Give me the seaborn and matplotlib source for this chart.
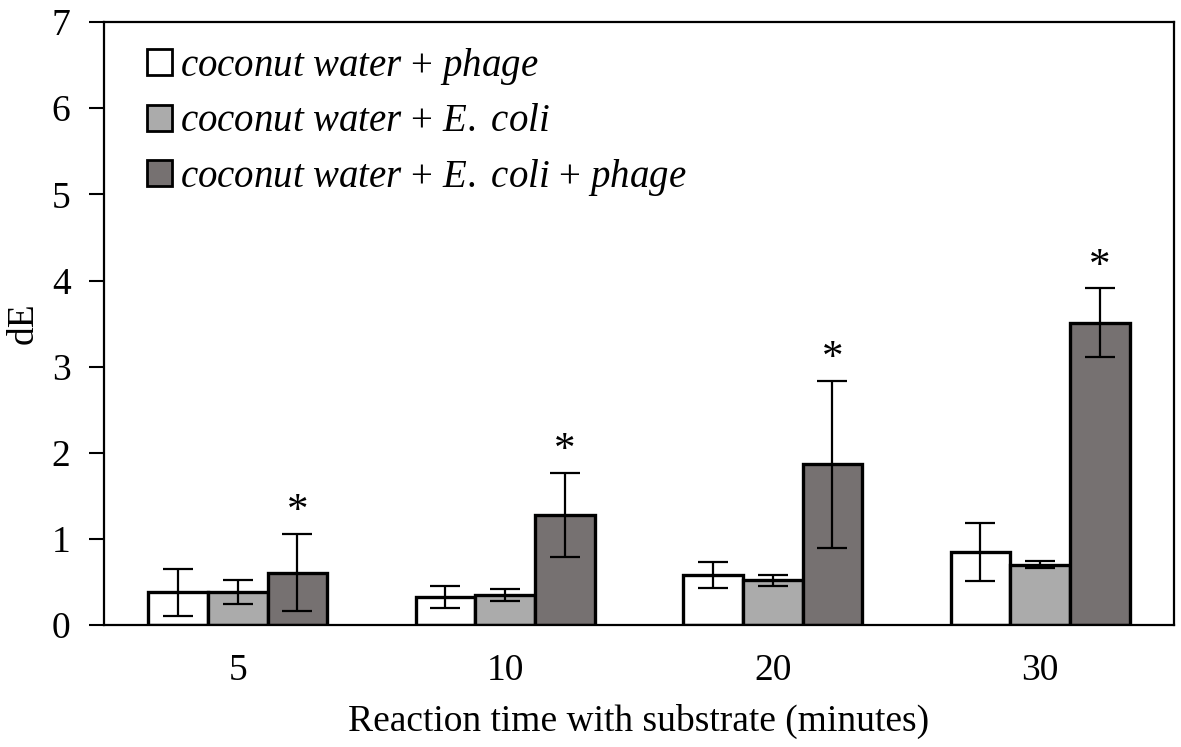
import numpy as np
import pandas as pd
import matplotlib
matplotlib.use("Agg")
import matplotlib.pyplot as plt
import seaborn as sns
from matplotlib.patches import Patch

times = ["5", "10", "20", "30"]
series = ["coconut water + phage", "coconut water + E. coli", "coconut water + E. coli + phage"]
phage_vals = [0.38, 0.33, 0.58, 0.85]
ecoli_vals = [0.39, 0.35, 0.52, 0.70]
both_vals = [0.61, 1.28, 1.87, 3.51]
phage_err = [0.27, 0.13, 0.15, 0.34]
ecoli_err = [0.14, 0.07, 0.065, 0.04]
both_err = [0.45, 0.49, 0.97, 0.40]
legend_labels = [r"$\it{coconut\ water}$ + $\it{phage}$",
                 r"$\it{coconut\ water}$ + $\it{E.\ coli}$",
                 r"$\it{coconut\ water}$ + $\it{E.\ coli}$ + $\it{phage}$"]

sns.set_theme(style="white")
plt.rcParams["font.family"] = ["Liberation Serif", "DejaVu Serif"]
plt.rcParams["mathtext.fontset"] = "custom"
plt.rcParams["mathtext.it"] = "Liberation Serif:italic"
plt.rcParams["mathtext.rm"] = "Liberation Serif"
plt.rcParams["text.color"] = "black"
plt.rcParams["axes.labelcolor"] = "black"
plt.rcParams["xtick.color"] = "black"
plt.rcParams["ytick.color"] = "black"

df = pd.DataFrame({
    "time": times * 3,
    "series": [s for s in series for _ in times],
    "dE": phage_vals + ecoli_vals + both_vals,
    "err": phage_err + ecoli_err + both_err,
})

colors = ["#ffffff", "#ababab", "#767171"]

fig = plt.figure(figsize=(11.81, 7.47), dpi=100)
ax = fig.add_axes([0.088, 0.163, 0.906, 0.8075])

sns.barplot(data=df, x="time", y="dE", hue="series", order=times, hue_order=series,
            palette=colors, edgecolor="black", linewidth=2.4, width=0.67,
            errorbar=None, ax=ax, legend=False, saturation=1)

for i, s in enumerate(series):
    cont = ax.containers[i]
    sub = df[df["series"] == s].set_index("time").loc[times]
    xs = [p.get_x() + p.get_width() / 2 for p in cont.patches]
    ys = [p.get_height() for p in cont.patches]
    ax.errorbar(xs, ys, yerr=sub["err"].values, fmt="none", ecolor="black",
                elinewidth=1.6, capsize=11, capthick=1.6, zorder=5)
    if i == 2:
        for x, y, e in zip(xs, ys, sub["err"].values):
            ax.text(x, y + e + 0.03, "*", ha="center", va="bottom", fontsize=31,
                    color="black")

ax.set_ylim(0, 7)
ax.set_xlim(-0.5, 3.5)
ax.set_yticks(range(0, 8))
ax.tick_params(axis="y", which="both", left=True, direction="out", length=11, width=1.5,
               labelsize=27, pad=13)
ax.tick_params(axis="x", bottom=False, labelsize=27, pad=14)
ax.set_xlabel("Reaction time with substrate (minutes)", fontsize=27, labelpad=12)
ax.set_ylabel("dE", fontsize=27, labelpad=8)
for sp in ax.spines.values():
    sp.set_color("black")
    sp.set_linewidth(1.6)
    sp.set_visible(True)

handles = [Patch(facecolor=c, edgecolor="black", linewidth=2.0) for c in colors]
leg = ax.legend(handles, legend_labels, loc="upper left", bbox_to_anchor=(0.018, 0.999),
                frameon=False, fontsize=28, handlelength=0.65, handleheight=0.65,
                handletextpad=0.2, labelspacing=0.42, borderaxespad=0.2)

fig.savefig("out.png", dpi=100)
